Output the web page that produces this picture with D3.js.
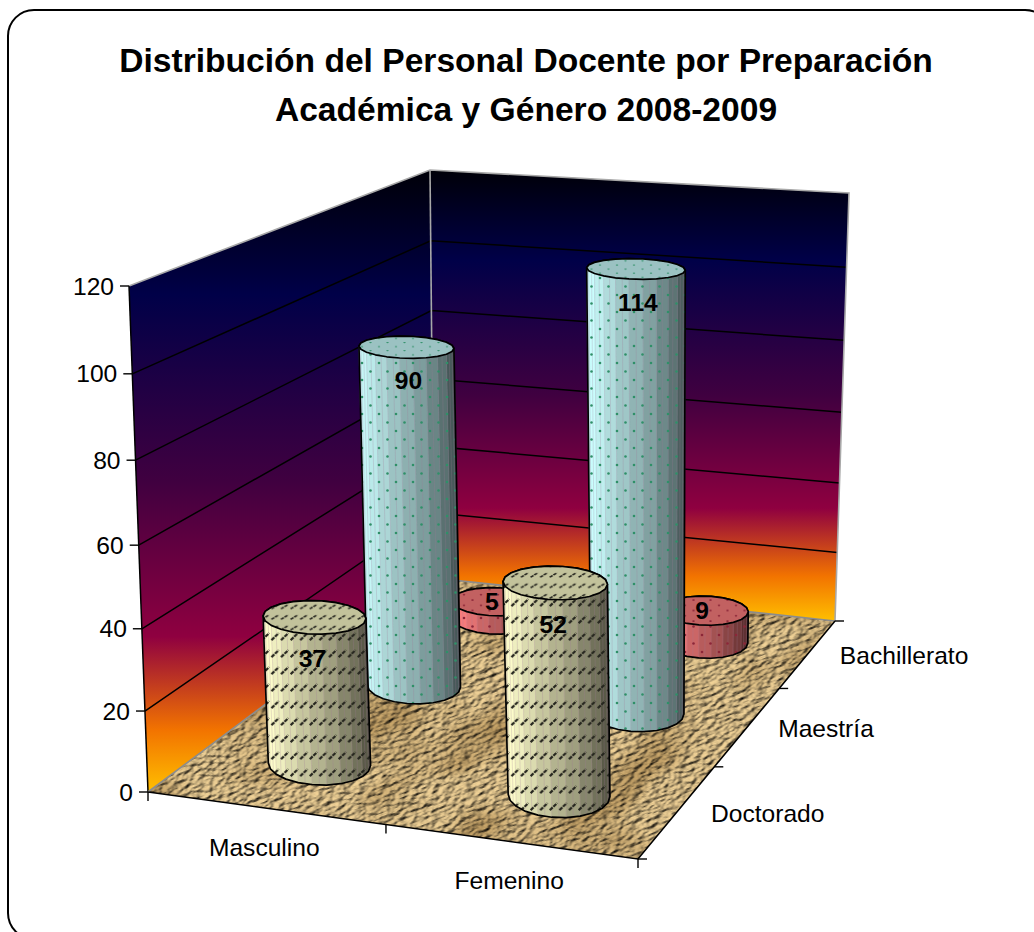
<!DOCTYPE html>
<html><head><meta charset="utf-8">
<script src="https://cdn.jsdelivr.net/npm/d3@7"></script>
<style>html,body{margin:0;padding:0;background:#fff;overflow:hidden}svg{display:block}text{font-family:"Liberation Sans",Arial,sans-serif}</style>
</head><body><svg id="c" width="1034" height="932"></svg>
<script>
const titleLines=["Distribución del Personal Docente por Preparación","Académica y Género 2008-2009"];
const categories=["Masculino","Femenino"];
const depthLabels=["Doctorado","Maestría","Bachillerato"];
const doctorado=[37,52];
const maestria=[90,114];
const bachillerato=[5,9];
const seriesValues=[doctorado,maestria,bachillerato];
const seriesColors=["#ffffcc","#ccffff","#ff8080"];
const wallStops=[[0,"#000008"],[.2,"#000048"],[.5,"#400040"],[.75,"#8f0040"],[.9,"#f27300"],[1,"#ffbf00"]];

const svg=d3.select("#c");
const defs=svg.append("defs");
const corners={base:[[148,792],[638,859],[835,621],[434,578]],top:[[129,286],[633,329],[849,193],[430,170]]};
function homography(q){
  const [[x0,y0],[x1,y1],[x2,y2],[x3,y3]]=q;
  const dx1=x1-x2,dx2=x3-x2,sx=x0-x1+x2-x3,dy1=y1-y2,dy2=y3-y2,sy=y0-y1+y2-y3;
  const den=dx1*dy2-dx2*dy1,g=(sx*dy2-dx2*sy)/den,h=(dx1*sy-sx*dy1)/den;
  const a=x1-x0+g*x1,b=x3-x0+h*x3,d=y1-y0+g*y1,e=y3-y0+h*y3;
  return (u,v)=>{const W=g*u+h*v+1;return [(a*u+b*v+x0)/W,(d*u+e*v+y0)/W];};
}
const H0=homography(corners.base),H1=homography(corners.top);
const yScale=d3.scaleLinear().domain([0,120]).range([0,1]);
const uScale=d3.scaleBand().domain(categories).range([0,1]);
const vScale=d3.scaleBand().domain(depthLabels).range([0,1]);
function project(u,v,val){
  const w=yScale(val),t=w/(w+1.05*(1-w));
  const a=H0(u,v),b=H1(u,v);
  return [a[0]+(b[0]-a[0])*t,a[1]+(b[1]-a[1])*t];
}
const line=d3.line();
function grad(id,stops){
  const g=defs.append("linearGradient").attr("id",id).attr("x1",0).attr("y1",0).attr("x2",0).attr("y2",1);
  stops.forEach(s=>g.append("stop").attr("offset",s[0]).attr("stop-color",s[1]));
}
grad("wall",wallStops);

// frame
svg.append("rect").attr("x",8).attr("y",10).attr("width",1043).attr("height",929).attr("rx",26).attr("fill","#fff").attr("stroke","#000").attr("stroke-width",2);

// title
svg.selectAll("text.t").data(titleLines).join("text").attr("class","t")
  .attr("x",526).attr("y",(d,i)=>72+i*49).attr("text-anchor","middle")
  .attr("font-size",33.6).attr("font-weight","bold").attr("fill","#000").text(d=>d);

// walls
svg.append("polygon").attr("fill","url(#wall)").attr("points",[project(0,0,0),project(0,1,0),project(0,1,120),project(0,0,120)].join(" "));
svg.append("polygon").attr("fill","url(#wall)").attr("points",[project(0,1,0),project(1,1,0),project(1,1,120),project(0,1,120)].join(" "));
// gridlines
const vTicks=yScale.ticks(6);
svg.append("g").selectAll("path").data(vTicks.filter(d=>d>0&&d<120)).join("path")
  .attr("fill","none").attr("stroke","#000").attr("stroke-width",1.5)
  .attr("d",d=>line([project(0,0,d),project(0,1,d),project(1,1,d)]));
// grey wall edges
const edges=[[project(0,0,120),project(0,1,120),project(1,1,120),project(1,1,0)],[project(0,1,0),project(0,1,120)]];
svg.append("g").selectAll("path").data(edges).join("path").attr("fill","none").attr("stroke","#a8a8a8").attr("stroke-width",1.6).attr("d",d=>line(d));
svg.append("path").attr("fill","none").attr("stroke","#000").attr("stroke-width",1.5).attr("d",line([project(0,0,120),project(0,0,0)]));

// floor
const floorPts=[H0(0,0),H0(1,0),H0(1,1),H0(0,1)];
defs.append("clipPath").attr("id","floorClip").append("polygon").attr("points",floorPts.join(" "));
const f=defs.append("filter").attr("id","burlap").attr("x",0).attr("y",0).attr("width",1).attr("height",1).attr("color-interpolation-filters","sRGB");
f.append("feTurbulence").attr("type","fractalNoise").attr("baseFrequency","0.12 0.28").attr("numOctaves",2).attr("seed",7).attr("result","n");
const lit=f.append("feDiffuseLighting").attr("in","n").attr("surfaceScale",3.2).attr("diffuseConstant",1.1).attr("lighting-color","#dcc08a").attr("result","l0");
lit.append("feDistantLight").attr("azimuth",235).attr("elevation",58);
f.append("feGaussianBlur").attr("in","l0").attr("stdDeviation",.6).attr("result","l");
f.append("feTurbulence").attr("type","fractalNoise").attr("baseFrequency","0.012 0.02").attr("numOctaves",2).attr("seed",3).attr("result","m");
f.append("feColorMatrix").attr("in","m").attr("type","matrix").attr("values","0 0 0 0 .55  0 0 0 0 .43  0 0 0 0 .2  1.2 0 0 0 -.5").attr("result","d");
f.append("feBlend").attr("in","d").attr("in2","l").attr("mode","multiply");
svg.append("g").attr("clip-path","url(#floorClip)").append("rect").attr("x",60).attr("y",480).attr("width",880).attr("height",440)
  .attr("transform","rotate(-20 500 700)").attr("filter","url(#burlap)");
svg.append("path").attr("fill","none").attr("stroke","#8c8c8c").attr("stroke-width",1.6).attr("d",line([H0(0,0),H0(0,1),H0(1,1)]));
svg.append("path").attr("fill","none").attr("stroke","#000").attr("stroke-width",1.6).attr("d",line([H0(0,0),H0(1,0),H0(1,1)]));

// axes
const axis=svg.append("g").attr("stroke","#000").attr("stroke-width",1.4);
vTicks.forEach(d=>{const p=project(0,0,d);
  axis.append("line").attr("x1",p[0]-9).attr("x2",p[0]).attr("y1",p[1]).attr("y2",p[1]);
  svg.append("text").attr("x",p[0]-15).attr("y",p[1]).attr("dy",".35em").attr("text-anchor","end").attr("font-size",24.6).attr("fill","#000").text(d);
});
[0,.5,1].forEach(u=>{const p=H0(u,0);axis.append("line").attr("x1",p[0]).attr("x2",p[0]).attr("y1",p[1]).attr("y2",p[1]+9);});
[0,1/3,2/3,1].forEach(v=>{const p=H0(1,v);axis.append("line").attr("x1",p[0]).attr("x2",p[0]+9).attr("y1",p[1]).attr("y2",p[1]);});
const catDx=[-1,-1],depthDx=[90,78,96];
svg.selectAll("text.cat").data(categories).join("text").attr("class","cat").attr("text-anchor","middle").attr("dy",".35em").attr("font-size",24.6)
  .attr("x",(d,i)=>H0(uScale(d)+uScale.bandwidth()/2,0)[0]+catDx[i]).attr("y",d=>H0(uScale(d)+uScale.bandwidth()/2,0)[1]+39).text(d=>d);
svg.selectAll("text.dep").data(depthLabels).join("text").attr("class","dep").attr("text-anchor","middle").attr("dy",".35em").attr("font-size",24.6)
  .attr("x",(d,i)=>H0(1,vScale(d)+vScale.bandwidth()/2)[0]+depthDx[i]).attr("y",d=>H0(1,vScale(d)+vScale.bandwidth()/2)[1]+2).text(d=>d);

// patterns
function dashPattern(id,sy){
  const p=defs.append("pattern").attr("id",id).attr("patternUnits","userSpaceOnUse").attr("width",9.6).attr("height",17).attr("patternTransform",`translate(2,3) scale(1,${sy})`);
  p.append("path").attr("d","M.6,8.2L8,1").attr("stroke","#26261f").attr("stroke-width",2.2).attr("stroke-dasharray","4 1").attr("fill","none");
}
function dotPattern(id,col,sy){
  const p=defs.append("pattern").attr("id",id).attr("patternUnits","userSpaceOnUse").attr("width",17).attr("height",17).attr("patternTransform",`translate(1,2) scale(1,${sy})`);
  [[4,4],[12.5,12.5]].forEach(c=>p.append("circle").attr("cx",c[0]).attr("cy",c[1]).attr("r",1.3).attr("fill",col));
}
dashPattern("pY",1);dashPattern("pYt",.62);
dotPattern("pB","#2f9068",1);dotPattern("pBt","#2f9068",.48);
dotPattern("pR","#8c2638",1);dotPattern("pRt","#8c2638",.62);
const patt=[["pY","pYt"],["pB","pBt"],["pR","pRt"]];

const shade=d3.scaleLinear().domain([0,.08,.35,.65,.9,1]).range([.97,1,.8,.63,.43,.28]);
const ru=0.108,rv=0.098,N=22,shrinkX=.875,shrinkBase=.8,shrinkTop=.74,tilt=.025;
const barShift=[.002,.009];
function mul(col,k){const c=d3.rgb(col);return d3.rgb(c.r*k,c.g*k,c.b*k).formatHex();}
function ringAt(u0,v0,val,shrinkY){
  const c=project(u0,v0,val);
  const pts=d3.range(N).map(k=>{const a=2*Math.PI*k/N;return project(u0+ru*Math.cos(a),v0+rv*Math.sin(a),val);});
  const ex=d3.max(pts,p=>Math.abs(p[0]-c[0]))*shrinkX,ey=d3.max(pts,p=>Math.abs(p[1]-c[1]))*shrinkY;
  return d3.range(N).map(k=>{const a=2*Math.PI*k/N,dx=ex*Math.cos(a);return [c[0]+dx,c[1]+ey*Math.sin(a)+tilt*dx];});
}

// back to front
[2,1,0].forEach(si=>{
  categories.forEach((cat,ci)=>{
    const val=seriesValues[si][ci];
    const u0=uScale(cat)+uScale.bandwidth()/2+barShift[ci], v0=vScale(depthLabels[si])+vScale.bandwidth()/2;
    const base=ringAt(u0,v0,0,shrinkBase), top=ringAt(u0,v0,val,shrinkTop);
    const hull=d3.polygonHull(base.concat(top));
    const xs=hull.map(p=>p[0]),xmin=d3.min(xs),xmax=d3.max(xs);
    const g=svg.append("g");
    g.append("polygon").attr("points",hull.join(" ")).attr("fill",mul(seriesColors[si],.7));
    const faces=d3.range(N).map(k=>{const n=(k+1)%N;return {k,n,mid:(base[k][0]+base[n][0])/2,sin:Math.sin(2*Math.PI*(k+.5)/N)};}).filter(d=>d.sin>-0.05);
    const colorOf=d=>mul(seriesColors[si],shade((d.mid-xmin)/(xmax-xmin)));
    g.selectAll("polygon.f").data(faces).join("polygon").attr("class","f")
      .attr("points",d=>[base[d.k],base[d.n],top[d.n],top[d.k]].join(" "))
      .attr("fill",colorOf).attr("stroke",colorOf).attr("stroke-width",.6);
    // seams at facet edges and facet centres
    const seams=faces.flatMap(d=>[[base[d.k],top[d.k]],[[(base[d.k][0]+base[d.n][0])/2,(base[d.k][1]+base[d.n][1])/2],[(top[d.k][0]+top[d.n][0])/2,(top[d.k][1]+top[d.n][1])/2]]]);
    g.selectAll("line.s").data(seams).join("line").attr("class","s")
      .attr("x1",d=>d[0][0]).attr("y1",d=>d[0][1]).attr("x2",d=>d[1][0]).attr("y2",d=>d[1][1])
      .attr("stroke","#a07898").attr("stroke-opacity",.3).attr("stroke-width",.8);
    g.append("polygon").attr("points",hull.join(" ")).attr("fill",`url(#${patt[si][0]})`);
    g.append("polygon").attr("points",hull.join(" ")).attr("fill","none").attr("stroke","#000").attr("stroke-width",1.7).attr("stroke-linejoin","round");
    g.append("polygon").attr("points",top.join(" ")).attr("fill",mul(seriesColors[si],.76));
    g.append("polygon").attr("points",top.join(" ")).attr("fill",`url(#${patt[si][1]})`).attr("stroke","#000").attr("stroke-width",1.7).attr("stroke-linejoin","round");
  });
});

// value labels
const labelDy=[41,33,0],labelDx=[-2,2,-3];
const labels=[];
seriesValues.forEach((vals,si)=>vals.forEach((val,ci)=>{
  const v0=vScale(depthLabels[si])+vScale.bandwidth()/2,u0=uScale(categories[ci])+uScale.bandwidth()/2+barShift[ci];
  const p=project(u0,v0,val);
  labels.push({val,x:p[0]+labelDx[si],y:p[1]+labelDy[si]});
}));
svg.selectAll("text.v").data(labels).join("text").attr("class","v").attr("x",d=>d.x).attr("y",d=>d.y).attr("dy",".35em")
  .attr("text-anchor","middle").attr("font-size",24.6).attr("font-weight","bold").attr("fill","#000").text(d=>d.val);
</script></body></html>
